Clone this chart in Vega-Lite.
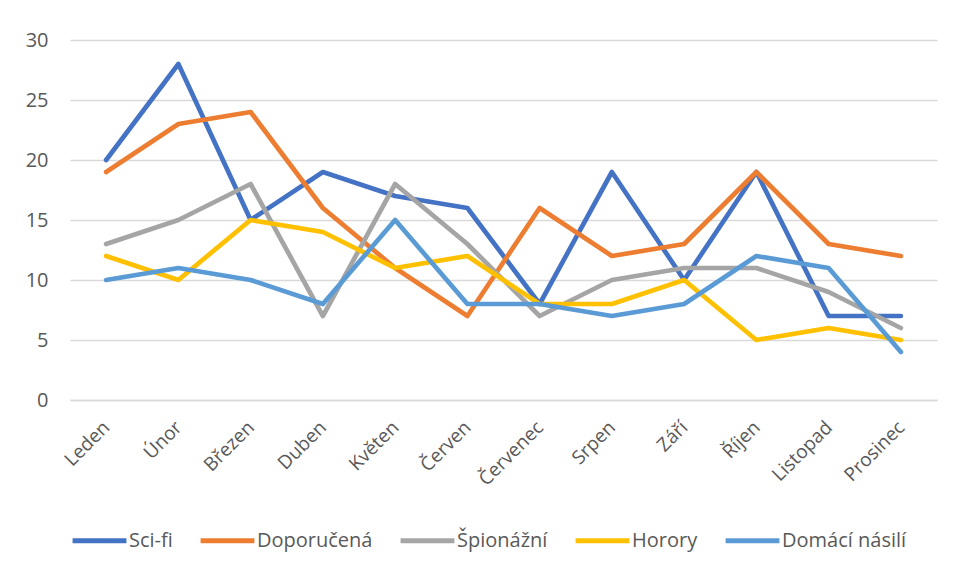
{
  "$schema": "https://vega.github.io/schema/vega-lite/v6.json",
  "width": 867,
  "height": 360,
  "autosize": {"type": "none"},
  "padding": {"left": 70, "top": 40, "right": 19, "bottom": 172},
  "background": "white",
  "config": {
    "font": "Open Sans",
    "view": {"stroke": null}
  },
  "datasets": {
    "d": [
      {"m": "Leden", "s": "Sci-fi", "v": 20}, {"m": "Únor", "s": "Sci-fi", "v": 28}, {"m": "Březen", "s": "Sci-fi", "v": 15}, {"m": "Duben", "s": "Sci-fi", "v": 19}, {"m": "Květen", "s": "Sci-fi", "v": 17}, {"m": "Červen", "s": "Sci-fi", "v": 16}, {"m": "Červenec", "s": "Sci-fi", "v": 8}, {"m": "Srpen", "s": "Sci-fi", "v": 19}, {"m": "Září", "s": "Sci-fi", "v": 10}, {"m": "Říjen", "s": "Sci-fi", "v": 19}, {"m": "Listopad", "s": "Sci-fi", "v": 7}, {"m": "Prosinec", "s": "Sci-fi", "v": 7},
      {"m": "Leden", "s": "Doporučená", "v": 19}, {"m": "Únor", "s": "Doporučená", "v": 23}, {"m": "Březen", "s": "Doporučená", "v": 24}, {"m": "Duben", "s": "Doporučená", "v": 16}, {"m": "Květen", "s": "Doporučená", "v": 11}, {"m": "Červen", "s": "Doporučená", "v": 7}, {"m": "Červenec", "s": "Doporučená", "v": 16}, {"m": "Srpen", "s": "Doporučená", "v": 12}, {"m": "Září", "s": "Doporučená", "v": 13}, {"m": "Říjen", "s": "Doporučená", "v": 19}, {"m": "Listopad", "s": "Doporučená", "v": 13}, {"m": "Prosinec", "s": "Doporučená", "v": 12},
      {"m": "Leden", "s": "Špionážní", "v": 13}, {"m": "Únor", "s": "Špionážní", "v": 15}, {"m": "Březen", "s": "Špionážní", "v": 18}, {"m": "Duben", "s": "Špionážní", "v": 7}, {"m": "Květen", "s": "Špionážní", "v": 18}, {"m": "Červen", "s": "Špionážní", "v": 13}, {"m": "Červenec", "s": "Špionážní", "v": 7}, {"m": "Srpen", "s": "Špionážní", "v": 10}, {"m": "Září", "s": "Špionážní", "v": 11}, {"m": "Říjen", "s": "Špionážní", "v": 11}, {"m": "Listopad", "s": "Špionážní", "v": 9}, {"m": "Prosinec", "s": "Špionážní", "v": 6},
      {"m": "Leden", "s": "Horory", "v": 12}, {"m": "Únor", "s": "Horory", "v": 10}, {"m": "Březen", "s": "Horory", "v": 15}, {"m": "Duben", "s": "Horory", "v": 14}, {"m": "Květen", "s": "Horory", "v": 11}, {"m": "Červen", "s": "Horory", "v": 12}, {"m": "Červenec", "s": "Horory", "v": 8}, {"m": "Srpen", "s": "Horory", "v": 8}, {"m": "Září", "s": "Horory", "v": 10}, {"m": "Říjen", "s": "Horory", "v": 5}, {"m": "Listopad", "s": "Horory", "v": 6}, {"m": "Prosinec", "s": "Horory", "v": 5},
      {"m": "Leden", "s": "Domácí násilí", "v": 10}, {"m": "Únor", "s": "Domácí násilí", "v": 11}, {"m": "Březen", "s": "Domácí násilí", "v": 10}, {"m": "Duben", "s": "Domácí násilí", "v": 8}, {"m": "Květen", "s": "Domácí násilí", "v": 15}, {"m": "Červen", "s": "Domácí násilí", "v": 8}, {"m": "Červenec", "s": "Domácí násilí", "v": 8}, {"m": "Srpen", "s": "Domácí násilí", "v": 7}, {"m": "Září", "s": "Domácí násilí", "v": 8}, {"m": "Říjen", "s": "Domácí násilí", "v": 12}, {"m": "Listopad", "s": "Domácí násilí", "v": 11}, {"m": "Prosinec", "s": "Domácí násilí", "v": 4}
    ]
  },
  "data": {"name": "d"},
  "mark": {"type": "line", "strokeWidth": 4.7, "strokeCap": "round", "strokeJoin": "round"},
  "encoding": {
    "x": {
      "field": "m",
      "type": "nominal",
      "sort": ["Leden", "Únor", "Březen", "Duben", "Květen", "Červen", "Červenec", "Srpen", "Září", "Říjen", "Listopad", "Prosinec"],
      "scale": {"type": "point", "padding": 0.5},
      "axis": {
        "title": null,
        "labelAngle": -45,
        "labelAlign": "right",
        "labelBaseline": "middle",
        "labelFontSize": 19,
        "labelColor": "#595959",
        "labelPadding": 24,
        "ticks": false,
        "domain": true,
        "domainColor": "#d9d9d9",
        "domainWidth": 1.5,
        "grid": false
      }
    },
    "y": {
      "field": "v",
      "type": "quantitative",
      "scale": {"domain": [0, 30], "nice": false, "zero": true},
      "axis": {
        "title": null,
        "values": [0, 5, 10, 15, 20, 25, 30],
        "labelFontSize": 20,
        "labelColor": "#595959",
        "labelPadding": 22,
        "ticks": false,
        "domain": false,
        "grid": true,
        "gridColor": "#d9d9d9",
        "gridWidth": 1.5
      }
    },
    "color": {
      "field": "s",
      "type": "nominal",
      "sort": ["Sci-fi", "Doporučená", "Špionážní", "Horory", "Domácí násilí"],
      "scale": {
        "domain": ["Sci-fi", "Doporučená", "Špionážní", "Horory", "Domácí násilí"],
        "range": ["#4472C4", "#ED7D31", "#A5A5A5", "#FFC000", "#5B9BD5"]
      },
      "legend": {
        "title": null,
        "orient": "none",
        "direction": "horizontal",
        "legendX": 0,
        "legendY": 471,
        "symbolType": "stroke",
        "symbolSize": 2900,
        "symbolStrokeWidth": 5,
        "labelFontSize": 20,
        "labelColor": "#595959",
        "labelOffset": 0,
        "columnPadding": 17
      }
    }
  }
}
